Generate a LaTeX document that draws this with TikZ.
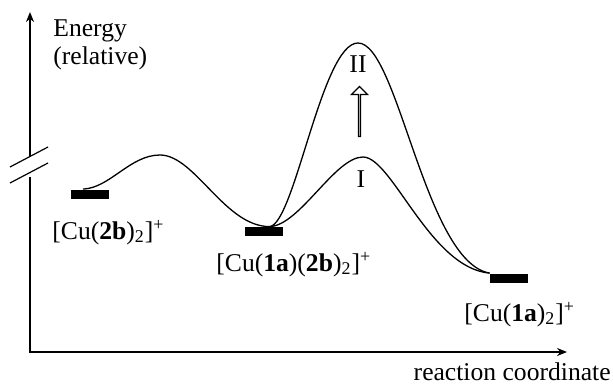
\documentclass[tikz,border=0pt]{standalone}
\usepackage{fontspec}
\setmainfont{Liberation Serif}
\usetikzlibrary{arrows.meta,shapes.arrows}

\begin{document}
\begin{tikzpicture}[
  x=0.5pt,y=-0.5pt,
  font=\fontsize{12.8}{15}\selectfont,
  level/.style={
    fill=black,
    inner sep=0pt,
    minimum width=19pt,
    minimum height=4.5pt
  },
  profile/.style={line width=.65pt},
  axis/.style={line width=1pt,-{Stealth[length=5pt,width=4pt]}},
  species/.style={anchor=base west,inner sep=0pt},
  hollow/.style={
    draw,
    single arrow,
    rotate=90,
    line width=.6pt,
    inner sep=0pt,
    minimum height=25pt,
    minimum width=8pt,
    single arrow head extend=2pt
  }
]
  \useasboundingbox (0,0) rectangle (613,385);

  % Axes, the energy axis broken by two slanted strokes.
  \draw[axis] (30,157) -- (30,12);
  \draw[axis] (30,177) -- (30,352) -- (567,352);
  \draw[line width=.6pt] (10,167) -- (48,147) (10,183) -- (48,163);
  \node[species] (ylab) at (53,37) {Energy};
  \node[species] (ylab2) at (53,64) {(relative)};
  \node[anchor=base east,inner sep=0pt] (xlab) at (611,380)
    {reaction coordinate};

  % Levels and their complexes.
  \node[level] (lvA) at (90,194) {};
  \node[level] (lvB) at (264,231.5) {};
  \node[level] (lvC) at (509,278) {};
  \node[species] at (52,239)
    {[Cu(\textbf{2b})\textsubscript{2}]\textsuperscript{+}};
  \node[species] at (216,271)
    {[Cu(\textbf{1a})(\textbf{2b})\textsubscript{2}]\textsuperscript{+}};
  \node[species] at (464,321)
    {[Cu(\textbf{1a})\textsubscript{2}]\textsuperscript{+}};

  % Energy profiles.
  \coordinate (tsA) at (160,155);
  \coordinate (tsI) at (363,157);
  \coordinate (tsII) at (358,43);
  \draw[profile] ([xshift=-3.5pt]lvA.north)
    .. controls (110,188) and (130,155) .. (tsA)
    .. controls (195,155) and (225,227) .. ([xshift=3pt]lvB.north);
  \draw[profile] ([xshift=3pt]lvB.north)
    .. controls (295,222) and (322,43) .. (tsII)
    .. controls (398,43) and (425,262) .. (lvC.north west);
  \draw[profile] ([xshift=3pt]lvB.north)
    .. controls (300,225) and (335,157) .. (tsI)
    .. controls (392,157) and (430,268) .. (lvC.north west);
  \node[anchor=base,inner sep=0pt] (pII) at (358,72) {II};
  \node[anchor=base,inner sep=0pt] (pI) at (361,187) {I};
  \node[hollow] (shift) at (359.5,112) {};
\end{tikzpicture}
\end{document}
